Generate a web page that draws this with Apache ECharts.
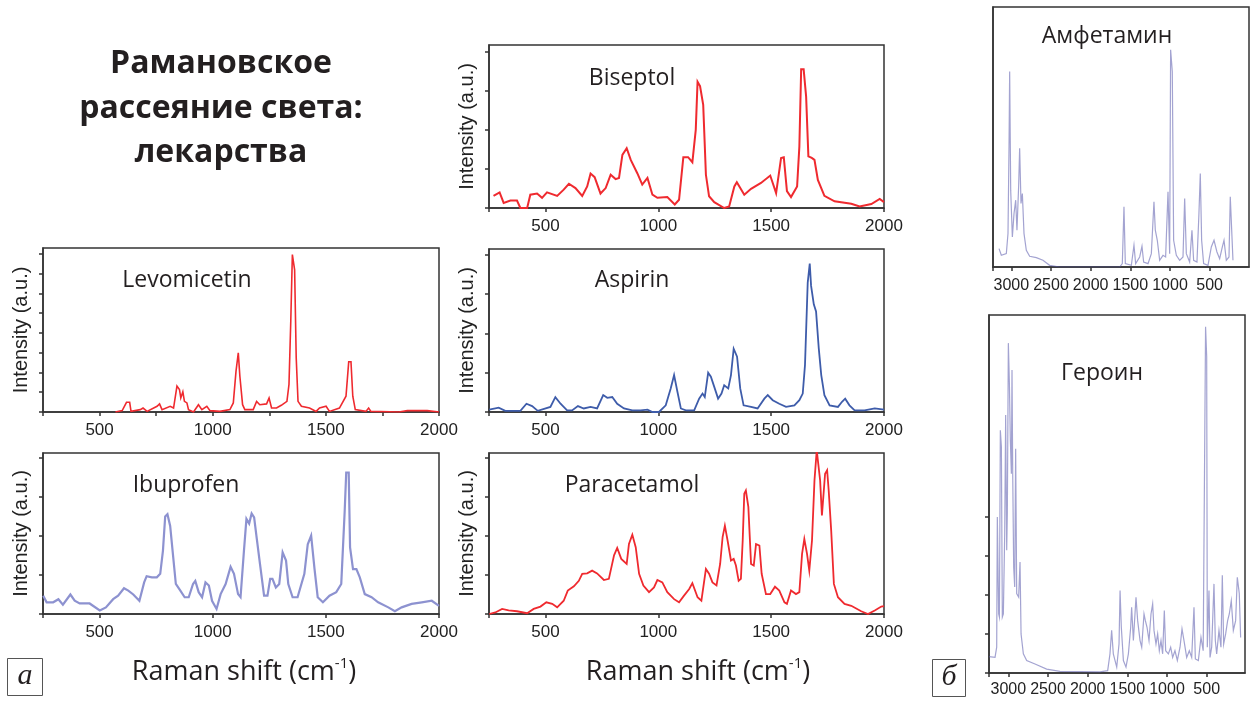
<!DOCTYPE html>
<html>
<head>
<meta charset="utf-8">
<script src="https://cdn.jsdelivr.net/npm/echarts@6/dist/echarts.min.js"></script>
<style>
  html, body { margin: 0; padding: 0; background: #ffffff; }
  #chart { width: 1251px; height: 702px; }
</style>
</head>
<body>
<div id="chart"></div>
<script>
// ---- Raman spectra (wavenumber in cm-1, intensity in arbitrary units) ----
const biseptolX = [270,297,315,345,374,389,419,433,463,485,507,552,581,604,633,663,685,700,718,744,767,789,811,826,841,860,878,907,929,952,974,996,1040,1073,1092,1111,1132,1151,1166,1174,1185,1199,1211,1225,1248,1292,1314,1337,1348,1381,1411,1455,1496,1522,1544,1556,1570,1588,1615,1625,1633,1644,1655,1665,1680,1692,1707,1736,1781,1855,1892,1944,1981,2000];
const biseptolY = [0.31,0.40,0.13,0.19,0.19,0.0,0.0,0.34,0.37,0.26,0.40,0.31,0.47,0.62,0.51,0.31,0.55,0.88,0.79,0.37,0.51,0.85,0.74,0.77,1.36,1.53,1.23,0.89,0.60,0.77,0.34,0.26,0.28,0.09,0.21,1.30,1.30,1.17,2.00,3.23,3.12,2.64,0.85,0.30,0.15,0.0,0.04,0.55,0.66,0.34,0.49,0.64,0.83,0.38,1.28,1.30,0.43,0.28,0.55,1.57,3.55,3.55,2.85,1.32,1.28,1.23,0.72,0.31,0.17,0.11,0.04,0.10,0.23,0.15];

const levomicetinX = [570,600,619,633,639,680,692,710,754,765,776,812,827,842,853,859,868,875,886,893,915,937,952,974,988,1032,1076,1091,1103,1113,1120,1132,1142,1179,1194,1208,1238,1249,1260,1282,1303,1328,1337,1345,1352,1362,1369,1377,1392,1428,1457,1472,1501,1516,1560,1589,1601,1611,1619,1630,1677,1689,1699,1823,1860,1948,2000];
const levomicetinY = [0,0.07,0.49,0.49,0.03,0.12,0.20,0.03,0.29,0.41,0.12,0.29,0.20,1.31,1.14,0.71,1.02,0.54,0.46,0.12,0,0.37,0.12,0.29,0.07,0.03,0.12,0.46,2.07,3.0,1.81,0.37,0.12,0.12,0.54,0.37,0.41,0.71,0.20,0.20,0.34,0.54,1.39,4.61,7.97,7.19,2.75,0.54,0.29,0.20,0.03,0.20,0.29,0.03,0.20,0.80,2.54,2.54,0.80,0.12,0.03,0.20,0.03,0,0.07,0.07,0];

const aspirinX = [251,293,322,389,416,441,466,522,544,567,596,618,644,670,700,729,756,774,796,818,848,885,922,952,974,1003,1033,1055,1070,1085,1100,1122,1159,1181,1196,1206,1221,1233,1248,1265,1280,1292,1310,1322,1334,1349,1363,1378,1411,1440,1470,1485,1507,1536,1566,1603,1625,1640,1650,1662,1671,1677,1689,1699,1711,1722,1736,1759,1796,1814,1828,1847,1870,1914,1959,2000];
const aspirinY = [0.06,0.11,0.03,0.03,0.21,0.15,0.03,0.13,0.38,0.21,0.04,0.04,0.15,0.09,0.13,0.09,0.43,0.36,0.38,0.21,0.09,0.04,0.04,0.06,0,0,0.17,0.60,0.94,0.51,0.09,0.04,0.04,0.34,0.47,0.38,1.00,0.90,0.64,0.34,0.47,0.68,0.60,0.94,1.61,1.41,0.60,0.17,0.13,0.09,0.34,0.43,0.30,0.21,0.13,0.17,0.30,0.47,1.20,3.29,3.78,3.21,2.74,2.56,1.62,0.94,0.43,0.17,0.13,0.26,0.34,0.17,0.04,0.04,0.09,0.06];

const ibuprofenX = [251,266,295,318,338,371,390,412,456,501,528,560,582,608,627,649,676,697,708,731,753,768,780,790,800,812,824,837,857,876,894,913,923,938,953,968,983,997,1017,1035,1057,1079,1094,1112,1123,1138,1149,1161,1172,1183,1195,1209,1227,1242,1254,1264,1279,1294,1309,1324,1334,1353,1375,1405,1420,1435,1450,1464,1487,1516,1546,1568,1583,1590,1601,1607,1620,1635,1650,1672,1702,1731,1776,1805,1835,1879,1924,1968,2000];
const ibuprofenY = [0.47,0.30,0.30,0.38,0.24,0.50,0.34,0.27,0.27,0.09,0.17,0.38,0.47,0.66,0.60,0.50,0.34,0.81,0.97,0.94,0.94,1.03,1.62,2.50,2.56,2.26,1.54,0.77,0.60,0.43,0.43,0.77,0.85,0.56,0.43,0.81,0.73,0.34,0.13,0.51,0.77,1.21,1.03,0.51,0.43,1.62,2.44,2.32,2.58,2.48,1.92,1.28,0.47,0.47,0.90,0.90,0.68,0.77,1.58,1.37,0.77,0.43,0.43,1.03,1.79,2.01,1.15,0.43,0.30,0.47,0.56,0.77,2.61,3.63,3.63,1.71,1.15,1.15,0.94,0.51,0.43,0.30,0.17,0.07,0.17,0.26,0.30,0.34,0.21];

const paracetamolX = [251,278,308,337,374,419,448,478,504,530,552,581,599,626,648,663,685,707,729,759,781,804,818,836,860,870,885,900,915,934,959,981,996,1018,1040,1070,1092,1114,1137,1151,1174,1191,1211,1225,1240,1258,1274,1285,1295,1307,1322,1334,1344,1356,1366,1374,1381,1388,1399,1411,1423,1433,1448,1458,1477,1496,1517,1536,1559,1570,1588,1610,1625,1637,1647,1659,1669,1681,1692,1702,1710,1717,1725,1733,1739,1748,1755,1766,1778,1796,1825,1855,1899,1929,1959,1988,2000];
const paracetamolY = [0,0.04,0.13,0.09,0.07,0.02,0.13,0.19,0.30,0.26,0.17,0.34,0.60,0.71,0.85,1.03,1.04,1.11,1.04,0.87,0.90,1.50,1.69,1.41,1.28,1.79,2.03,1.71,1.03,0.73,0.56,0.68,0.87,0.81,0.56,0.38,0.30,0.47,0.64,0.79,0.43,0.34,1.15,1.03,0.81,0.73,1.28,1.97,2.26,1.88,1.37,1.41,1.24,0.85,0.90,1.88,3.08,3.16,2.74,1.28,1.24,1.79,1.75,1.03,0.51,0.51,0.70,0.60,0.30,0.26,0.60,0.51,0.56,1.54,1.92,1.54,1.11,1.88,3.42,4.19,4.19,3.42,2.52,2.56,3.59,3.68,3.16,2.14,0.77,0.43,0.26,0.21,0.07,0,0.09,0.19,0.20];

const amphetamineX = [3155,3126,3063,3042,3029,3021,3008,2987,2966,2945,2929,2908,2895,2878,2861,2840,2811,2769,2685,2601,2517,2391,1634,1601,1580,1563,1487,1454,1433,1382,1353,1332,1277,1235,1202,1185,1160,1130,1088,1055,1025,1004,992,983,971,954,920,878,836,815,794,752,723,702,660,635,618,601,576,521,479,445,408,374,340,319,290,256,240,223,206];
const amphetamineY = [0.55,0.35,0.40,1.00,3.60,5.85,2.30,0.90,1.60,2.00,1.10,2.40,3.55,1.90,2.20,1.00,0.50,0.32,0.28,0.20,0.05,0,0,0.10,1.80,0.10,0.05,0.65,0.10,0.30,0.62,0.15,0.10,0.40,1.95,1.10,0.80,0.20,0.35,0.30,2.25,0.40,6.50,6.55,5.85,0.80,0.35,0.20,0.30,2.05,0.40,0.15,1.10,0.20,0.15,1.60,2.80,0.80,0.10,0.05,0.60,0.80,0.45,0.25,0.60,0.80,0.20,0.30,2.10,2.10,0.20];

const heroinX = [3244,3168,3147,3139,3122,3113,3101,3088,3076,3063,3046,3034,3021,3013,3000,2987,2975,2962,2954,2945,2933,2920,2908,2895,2870,2853,2840,2811,2769,2664,2517,2349,1845,1748,1719,1698,1677,1634,1605,1592,1576,1550,1517,1487,1458,1446,1424,1391,1370,1340,1319,1290,1273,1252,1227,1202,1181,1164,1139,1118,1097,1076,1055,1034,1017,983,954,929,900,870,836,811,786,752,719,689,660,643,605,572,544,514,500,492,471,458,437,408,391,374,345,320,303,286,261,236,215,190,164,135,114,89,72];
const heroinY = [0.42,0.40,0.66,3.99,1.51,1.43,6.21,5.79,1.43,1.51,3.56,6.60,3.14,4.08,8.44,7.41,5.96,5.10,7.75,5.10,2.71,2.20,5.74,2.03,1.94,2.84,1.00,0.49,0.32,0.23,0.10,0.04,0.03,0.06,0.49,1.09,0.49,0.15,0.74,2.11,1.17,0.32,0.15,0.49,1.17,1.68,0.83,1.94,1.34,0.83,0.66,1.51,1.34,1.17,0.83,1.51,1.77,1.09,0.74,1.00,0.57,0.83,0.49,1.60,0.57,0.49,0.66,0.40,0.57,0.32,0.66,1.13,0.83,0.40,0.57,0.40,1.68,0.36,0.32,0.91,0.57,8.86,8.09,0.66,2.11,0.40,0.66,2.28,0.83,0.49,1.09,0.66,2.50,0.74,1.00,1.34,1.51,1.85,1.09,1.34,2.45,2.03,0.91];

// ---- tick positions and labels ----
const ramanTicks = [250, 500, 1000, 1500, 2000];
const ramanTicksFine = [250, 500, 750, 1000, 1250, 1500, 1750, 2000];
const ramanLabels = [500, 1000, 1500, 2000];
const wideTicks = [3000, 2500, 2000, 1500, 1000, 500];
const wideLabels = [3000, 2500, 2000, 1500, 1000, 500];
const intensityTicks = [0, 1, 2, 3, 4];
const intensityTicksFine = [0, 1, 2, 3, 4, 5, 6, 7, 8];

// ---- text ----
const titleLines = ['Рамановское', 'рассеяние света:', 'лекарства'];
const yAxisTitle = 'Intensity (a.u.)';
const xAxisTitle = 'Raman shift (cm{sup|-1})';

const RED = '#ef2a2f';
const TICK_FONT = '"Liberation Sans", Arial, sans-serif';
const TEXT_FONT = '"Open Sans", "Noto Sans", sans-serif';
const INK = '#231f20';

const panels = [
  { label: 'Biseptol', xs: biseptolX, ys: biseptolY,
    grid: { left: 489, top: 45, width: 395, height: 163 },
    xMin: 250, xMax: 2000, yMax: 4.17, inverse: false,
    xTicks: ramanTicks, xLabels: ramanLabels, yTicks: intensityTicks,
    color: RED, lw: 2, yName: true, labelSize: 17, labelMargin: 10,
    text: [632, 78] },
  { label: 'Levomicetin', xs: levomicetinX, ys: levomicetinY,
    grid: { left: 43, top: 248, width: 396, height: 164 },
    xMin: 250, xMax: 2000, yMax: 8.3, inverse: false,
    xTicks: ramanTicksFine, xLabels: ramanLabels, yTicks: intensityTicksFine,
    color: RED, lw: 1.6, yName: true, labelSize: 17, labelMargin: 10,
    text: [187, 280] },
  { label: 'Aspirin', xs: aspirinX, ys: aspirinY,
    grid: { left: 489, top: 249, width: 395, height: 163 },
    xMin: 250, xMax: 2000, yMax: 4.15, inverse: false,
    xTicks: ramanTicks, xLabels: ramanLabels, yTicks: intensityTicks,
    color: '#3e5caa', lw: 1.8, yName: true, labelSize: 17, labelMargin: 10,
    text: [632, 280] },
  { label: 'Ibuprofen', xs: ibuprofenX, ys: ibuprofenY,
    grid: { left: 43, top: 453, width: 396, height: 161 },
    xMin: 250, xMax: 2000, yMax: 4.13, inverse: false,
    xTicks: ramanTicks, xLabels: ramanLabels, yTicks: intensityTicks,
    color: '#8d92d0', lw: 2.2, yName: true, labelSize: 17, labelMargin: 10,
    text: [186, 485] },
  { label: 'Paracetamol', xs: paracetamolX, ys: paracetamolY,
    grid: { left: 489, top: 453, width: 395, height: 161 },
    xMin: 250, xMax: 2000, yMax: 4.12, inverse: false,
    xTicks: ramanTicks, xLabels: ramanLabels, yTicks: intensityTicks,
    color: RED, lw: 1.8, yName: true, labelSize: 17, labelMargin: 10,
    text: [632, 485] },
  { label: 'Амфетамин', xs: amphetamineX, ys: amphetamineY,
    grid: { left: 993, top: 7, width: 256, height: 260 },
    xMin: 4, xMax: 3231, yMax: 7.78, inverse: true,
    xTicks: wideTicks.concat([3231]), xLabels: wideLabels, yTicks: null,
    color: 'rgba(88,88,172,0.55)', lw: 1.2, yName: false, labelSize: 16, labelMargin: 11,
    text: [1107, 36] },
  { label: 'Героин', xs: heroinX, ys: heroinY,
    grid: { left: 989, top: 315, width: 256, height: 358 },
    xMin: 17, xMax: 3244, yMax: 9.16, inverse: true,
    xTicks: wideTicks.concat([3244]), xLabels: wideLabels, yTicks: intensityTicks,
    color: 'rgba(88,88,172,0.55)', lw: 1.2, yName: false, labelSize: 16, labelMargin: 9,
    text: [1102, 373] }
];

const zip = (xs, ys) => xs.map((x, i) => [x, ys[i]]);
const AXIS_COLOR = '#333333';

const grids = panels.map(p => Object.assign({
  show: true, borderColor: AXIS_COLOR, borderWidth: 1.5,
  backgroundColor: 'transparent', containLabel: false
}, p.grid));

const xAxes = panels.map((p, i) => ({
  type: 'value', gridIndex: i, min: p.xMin, max: p.xMax, inverse: p.inverse,
  splitLine: { show: false },
  axisLine: { show: true, lineStyle: { color: AXIS_COLOR, width: 1.5 } },
  axisTick: { show: true, inside: false, length: 4, lineStyle: { color: AXIS_COLOR, width: 1.5 },
              customValues: p.xTicks },
  axisLabel: { show: true, margin: p.labelMargin, color: '#222', fontSize: p.labelSize,
               fontFamily: TICK_FONT, hideOverlap: false,
               customValues: p.xLabels, formatter: v => String(v) }
}));

const yAxes = panels.map((p, i) => ({
  type: 'value', gridIndex: i, min: 0, max: p.yMax,
  splitLine: { show: false },
  axisLine: { show: true, lineStyle: { color: AXIS_COLOR, width: 1.5 } },
  axisTick: p.yTicks ? { show: true, inside: false, length: 4,
              lineStyle: { color: AXIS_COLOR, width: 1.5 }, customValues: p.yTicks } : { show: false },
  axisLabel: { show: false },
  name: p.yName ? yAxisTitle : '',
  nameLocation: 'middle', nameGap: 12,
  nameTextStyle: { fontFamily: '"Liberation Sans", Arial, sans-serif', fontSize: 20, color: '#222' }
}));

const series = panels.map((p, i) => ({
  type: 'line', xAxisIndex: i, yAxisIndex: i,
  data: zip(p.xs, p.ys),
  showSymbol: false, symbol: 'none', smooth: false, clip: true,
  lineStyle: { color: p.color, width: p.lw, join: 'miter' },
  emphasis: { disabled: true }, silent: true
}));

const graphic = [];
titleLines.forEach((t, k) => graphic.push({
  type: 'text', x: 221, y: 64 + k * 44.5,
  style: { text: t, align: 'center', verticalAlign: 'middle',
           font: 'bold 32px ' + TEXT_FONT, fill: INK }
}));
panels.forEach(p => graphic.push({
  type: 'text', x: p.text[0], y: p.text[1],
  style: { text: p.label, align: 'center', verticalAlign: 'middle',
           font: '23px ' + TEXT_FONT, fill: INK }
}));
[[244, 672], [698, 672]].forEach(([cx, cy]) => graphic.push({
  type: 'text', x: cx, y: cy,
  style: { text: xAxisTitle, align: 'center', verticalAlign: 'middle',
           font: '27px ' + TEXT_FONT, fill: INK, lineHeight: 32,
           rich: { sup: { fontSize: 15, fontFamily: TEXT_FONT, lineHeight: 18, verticalAlign: 'top', fill: INK } } }
}));
// panel letters in framed boxes
[['a', 7.5, 658.5, 35, 37], ['б', 932.5, 659.5, 33, 37]].forEach(([ch, x, y, w, h]) => {
  graphic.push({ type: 'rect', shape: { x: x, y: y, width: w, height: h },
                 style: { fill: '#fff', stroke: '#555', lineWidth: 1 } });
  graphic.push({ type: 'text', x: x + w / 2, y: y + h / 2 - 1,
                 style: { text: ch, align: 'center', verticalAlign: 'middle',
                          font: 'italic 30px "Liberation Serif", "DejaVu Serif", serif', fill: INK } });
});

const chart = echarts.init(document.getElementById('chart'), null, { renderer: 'canvas' });
chart.setOption({
  animation: false,
  backgroundColor: '#ffffff',
  grid: grids, xAxis: xAxes, yAxis: yAxes, series: series, graphic: graphic
});
</script>
</body>
</html>
